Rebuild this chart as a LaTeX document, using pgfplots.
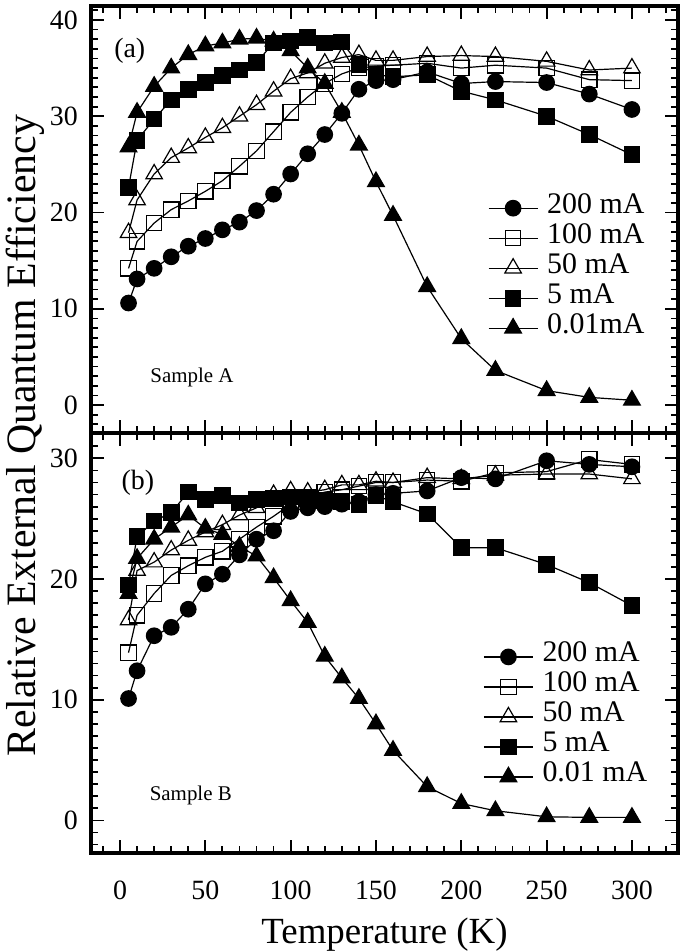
\documentclass[border=0pt]{standalone}
\usepackage{fontspec}
\setmainfont{Liberation Serif}
\usepackage{pgfplots}
\usepackage{pgfplotstable}
\pgfplotsset{compat=1.18}

% Sample A (top panel)
\pgfplotstableread{
T   c200 s100 t50  s5   t001
5   10.6 14.2 17.9 22.6 26.8
10  13.1 17.0 21.3 27.5 30.4
20  14.2 18.9 24.0 29.7 33.1
30  15.4 20.3 25.7 31.7 35.0
40  16.5 21.2 26.7 32.8 36.4
50  17.3 22.2 27.8 33.5 37.3
60  18.2 23.3 28.8 34.2 37.6
70  19.0 24.8 30.0 34.8 38.0
80  20.2 26.4 31.2 35.6 38.1
90  21.9 28.4 32.6 37.6 37.8
100 24.0 30.4 33.9 37.8 36.8
110 26.1 32.0 34.5 38.2 35.0
120 28.1 33.4 35.5 37.6 33.4
130 30.3 34.4 36.1 37.7 30.4
140 32.8 35.0 36.4 35.4 27.0
150 33.7 35.2 35.8 34.3 23.2
160 33.8 35.3 35.8 34.1 19.7
180 34.6 35.5 36.2 34.3 12.3
200 33.4 35.0 36.3 32.6 6.9
220 33.6 35.3 36.2 31.7 3.6
250 33.5 35.0 35.7 30.0 1.5
275 32.3 33.8 34.8 28.1 0.8
300 30.7 33.7 35.0 26.0 0.5
}\sampleA

% Sample B (bottom panel)
\pgfplotstableread{
T   c200 s100 t50  s5   t001
5   10.1 13.9 16.6 19.5 18.8
10  12.4 17.0 20.7 23.5 21.7
20  15.3 18.8 21.4 24.8 23.3
30  16.0 20.3 22.4 25.5 24.3
40  17.5 21.1 23.2 27.2 25.3
50  19.6 21.8 23.9 26.6 24.2
60  20.4 22.3 24.5 26.9 23.7
70  22.0 23.3 25.3 26.3 22.7
80  23.3 24.3 25.9 26.6 21.9
90  24.0 25.2 27.0 26.7 20.1
100 25.6 26.2 27.3 26.8 18.2
110 25.9 26.8 27.2 26.7 16.4
120 26.0 27.2 27.4 26.5 13.6
130 26.2 27.4 27.8 26.4 11.8
140 26.4 27.7 27.8 26.2 10.1
150 27.0 28.0 28.1 26.9 8.0
160 27.1 28.0 28.0 26.4 5.8
180 27.3 28.2 28.4 25.4 2.8
200 28.4 28.1 28.3 22.6 1.4
220 28.3 28.8 28.6 22.6 0.8
250 29.8 28.9 28.7 21.2 0.3
275 29.5 29.9 28.7 19.7 0.25
300 29.3 29.5 28.3 17.8 0.25
}\sampleB

\pgfplotsset{
  qe/.style={
    scale only axis, width=587bp,
    xmin=-17, xmax=327,
    axis line style={line width=3.2bp},
    xtick={0,50,...,300}, minor xtick={-10,0,...,320},
    tick pos=both, tick align=inside,
    major tick length=13bp, minor tick length=7bp,
    every tick/.style={black, line width=1.8bp},
    tick label style={font=\fontsize{28}{30}\selectfont},
    /pgf/number format/assume math mode=true,
    yticklabel style={inner sep=0pt, xshift=-13bp},
    legend image code/.code={\draw[mark repeat=2,mark phase=2,##1] plot coordinates {(0bp,0bp) (24.5bp,0bp) (49bp,0bp)};},
    legend cell align=left,
    every axis plot/.append style={black, line width=1.2bp, mark options={solid, line width=1.3bp}},
  },
  legend style={draw=none, fill=none, inner sep=0pt, column sep=9bp,
    font=\fontsize{30}{32}\selectfont,
    nodes={inner sep=0pt, text height=20bp, text depth=10bp}},
  pc/.style={mark=*, mark size=7.7bp},
  po/.style={mark=square, mark size=7.7bp, mark options={fill=white}},
  pt/.style={mark=triangle, mark size=9.5bp, mark options={fill=white}},
  ps/.style={mark=square*, mark size=7.7bp},
  pf/.style={mark=triangle*, mark size=9.5bp},
}

\begin{document}
\begin{tikzpicture}
\path[use as bounding box] (-91bp,-99bp) rectangle (594bp,853bp);

% bottom panel (b)
\begin{axis}[qe, height=420bp, at={(0bp,0bp)},
  ymin=-2.7, ymax=32.1,
  ytick={0,10,20,30}, minor ytick={-2,-1,...,32},
  xticklabel style={anchor=center, yshift=-37bp},
  xlabel={Temperature (K)},
  xlabel style={font=\fontsize{37}{40}\selectfont, at={(axis description cs:0.5,-0.195)}, anchor=center},
  legend style={at={(axis description cs:0.668,0.324)}, anchor=west},
]
\addplot[pc] table[x=T, y=c200] {\sampleB};
\addplot[po] table[x=T, y=s100] {\sampleB};
\addplot[pt] table[x=T, y=t50] {\sampleB};
\addplot[ps] table[x=T, y=s5] {\sampleB};
\addplot[pf] table[x=T, y=t001] {\sampleB};
\legend{200 mA, 100 mA, 50 mA, 5 mA, 0.01 mA}
\node[font=\fontsize{28}{30}\selectfont] at (axis description cs:0.080,0.881) {(b)};
\node[font=\fontsize{21}{24}\selectfont] at (axis description cs:0.170,0.138) {Sample B};
\end{axis}

% top panel (a)
\begin{axis}[qe, height=427bp, at={(0bp,420bp)},
  ymin=-2.9, ymax=41.45,
  ytick={0,10,20,30,40}, minor ytick={-2,-1,...,41},
  xticklabels={},
  legend style={at={(axis description cs:0.676,0.386)}, anchor=west},
]
\addplot[pc] table[x=T, y=c200] {\sampleA};
\addplot[po] table[x=T, y=s100] {\sampleA};
\addplot[pt] table[x=T, y=t50] {\sampleA};
\addplot[ps] table[x=T, y=s5] {\sampleA};
\addplot[pf] table[x=T, y=t001] {\sampleA};
\legend{200 mA, 100 mA, 50 mA, 5 mA, 0.01mA}
\node[font=\fontsize{28}{30}\selectfont] at (axis description cs:0.066,0.895) {(a)};
\node[font=\fontsize{21}{24}\selectfont] at (axis description cs:0.172,0.131) {Sample A};
\end{axis}

\node[rotate=90, font=\fontsize{42}{46}\selectfont] at (-66bp,417bp) {Relative External Quantum Efficiency};
\end{tikzpicture}
\end{document}
